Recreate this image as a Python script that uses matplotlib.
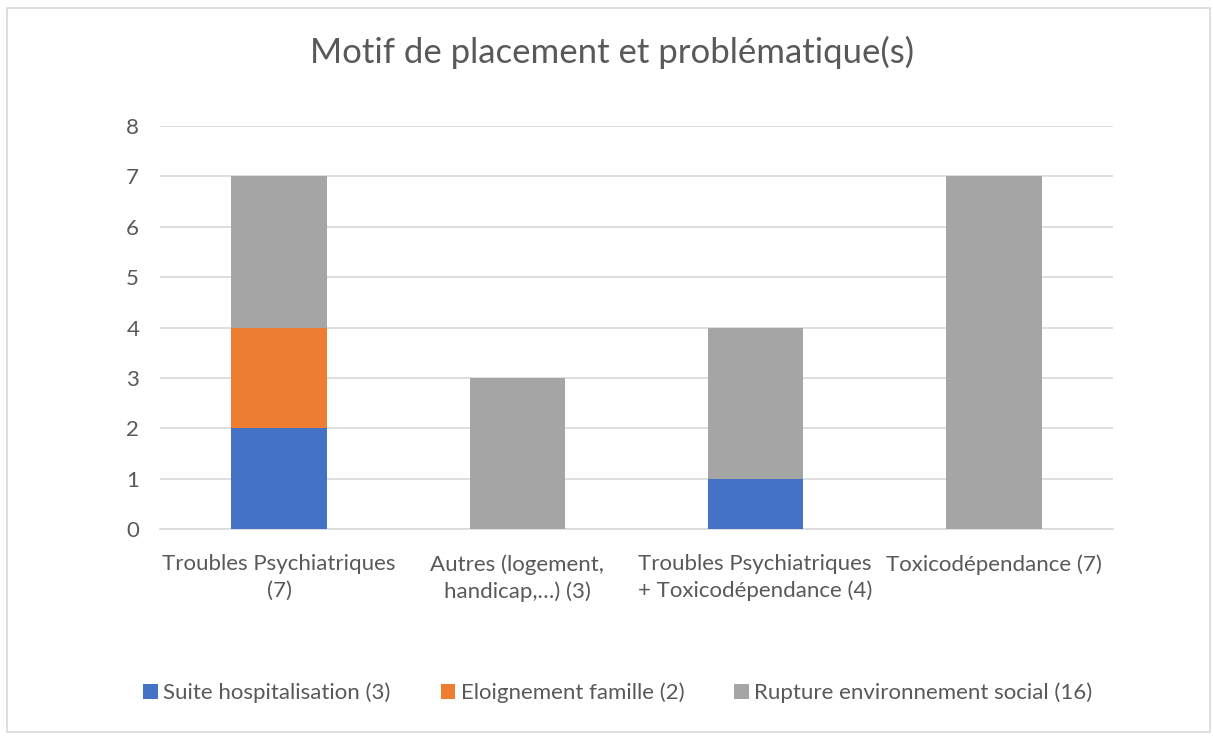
import matplotlib.pyplot as plt
from matplotlib.patches import Rectangle
import numpy as np

# Data
categories = [
    "Troubles Psychiatriques\n(7)",
    "Autres (logement,\nhandicap,…) (3)",
    "Troubles Psychiatriques\n+ Toxicodépendance (4)",
    "Toxicodépendance (7)",
]
series_names = [
    "Suite hospitalisation (3)",
    "Eloignement famille (2)",
    "Rupture environnement social (16)",
]
suite_hosp = [2, 0, 1, 0]
eloignement = [2, 0, 0, 0]
rupture = [3, 3, 3, 7]
colors = ["#4472C4", "#ED7D31", "#A5A5A5"]
text_color = "#595959"

plt.rcParams['font.family'] = ['Lato', 'DejaVu Sans']

fig = plt.figure(figsize=(12.13, 7.4), dpi=100)
ax = fig.add_axes([160 / 1213, 1 - 529 / 740, 953 / 1213, 403 / 740])

x = np.arange(len(categories))
bottom = np.zeros(len(categories))
for name, vals, col in zip(series_names, [suite_hosp, eloignement, rupture], colors):
    ax.bar(x, vals, width=0.4, bottom=bottom, color=col, label=name, zorder=3)
    bottom += np.array(vals)

ax.set_xlim(-0.5, len(categories) - 0.5)
ax.set_ylim(0, 8)
ax.set_yticks(range(0, 9))
ax.yaxis.grid(True, color="#D9D9D9", linewidth=1.2, zorder=0)
ax.tick_params(axis='y', length=0, pad=15, labelsize=16, labelcolor=text_color)
ax.tick_params(axis='x', length=0, pad=18, labelsize=16, labelcolor=text_color)
ax.set_xticks(x)
labels = ax.set_xticklabels(categories, linespacing=1.4)
labels[2].set_multialignment('left')
for s in ['top', 'right', 'left']:
    ax.spines[s].set_visible(False)
ax.spines['bottom'].set_color("#D9D9D9")
ax.spines['bottom'].set_linewidth(1.2)

fig.text(612 / 1213, 1 - 52 / 740, "Motif de placement et problématique(s)",
         ha='center', va='center', fontsize=25, color=text_color)

fig.legend(loc='center', bbox_to_anchor=(618 / 1213, 1 - 693 / 740), ncol=3,
           frameon=False, fontsize=16, labelcolor=text_color,
           handlelength=0.65, handleheight=0.65, handletextpad=0.25, columnspacing=2.25)

fig.patches.append(Rectangle((7 / 1213, 8 / 740), 1203 / 1213, 724 / 740,
                             transform=fig.transFigure, fill=False,
                             edgecolor="#D9D9D9", linewidth=1.2))

fig.savefig("out.png", dpi=100)
